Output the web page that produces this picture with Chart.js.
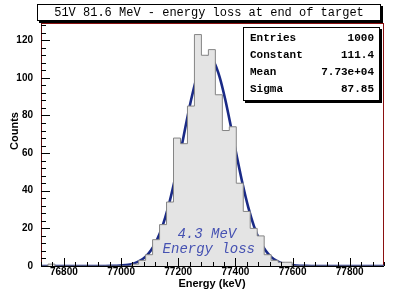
<!DOCTYPE html>
<html>
<head>
<meta charset="utf-8">
<script src="https://cdn.jsdelivr.net/npm/chart.js@4.4.0/dist/chart.umd.min.js"></script>
<style>
  html, body { margin: 0; padding: 0; background: #fff; }
</style>
</head>
<body>
<canvas id="histo" width="394" height="297"></canvas>
<script>
// 50 bins of 24.4 keV starting at 76720 keV
var binStart = 76720;
var binWidth = 24.4;
var counts = [0, 1, 0, 0, 0, 0, 0, 0, 0, 0,
              0, 0, 0, 1, 3, 6, 14, 22, 34, 68,
              65, 85, 123, 112, 115, 91, 72, 74, 44, 29,
              20, 16, 6, 3, 2, 2, 0, 0, 0, 0,
              0, 0, 0, 0, 0, 0, 0, 0, 0, 0];

// gaussian fit line
var fitEnergy = [76720, 76945, 76965, 76985, 77005, 77025, 77045, 77065, 77085, 77105,
                 77125, 77145, 77165, 77185, 77205, 77225, 77245, 77265, 77285, 77305,
                 77325, 77345, 77365, 77385, 77405, 77425, 77445, 77465, 77485, 77505,
                 77525, 77545, 77565, 77585, 77605, 77625, 77645, 77665, 77920];
var fitCounts = [0, 0.03, 0.06, 0.15, 0.33, 0.69, 1.40, 2.67, 4.84, 8.34,
                 13.65, 21.21, 31.29, 43.82, 58.28, 73.59, 88.22, 100.43, 108.55, 111.4,
                 108.55, 100.43, 88.22, 73.59, 58.28, 43.82, 31.29, 21.21, 13.65, 8.34,
                 4.84, 2.67, 1.40, 0.69, 0.33, 0.15, 0.06, 0.03, 0];

var xMin = 76720, xMax = 77920;
var xLabels = [76800, 77000, 77200, 77400, 77600, 77800];
var yLabels = [0, 20, 40, 60, 80, 100, 120];
var yTop = 129.15;

var title = '51V 81.6 MeV - energy loss at end of target';
var statNames = ['Entries', 'Constant', 'Mean', 'Sigma'];
var statValues = ['1000', '111.4', '7.73e+04', '87.85'];
var note = ['4.3 MeV', 'Energy loss'];

var histPoints = [{x: binStart, y: 0}];
counts.forEach(function (c, i) {
    histPoints.push({x: binStart + i * binWidth, y: c});
});
histPoints.push({x: binStart + counts.length * binWidth, y: 0});

var fitPoints = fitEnergy.map(function (e, i) { return {x: e, y: fitCounts[i]}; });

var sans = "'Liberation Sans', Arial, sans-serif";
var mono = "'Liberation Mono', 'DejaVu Sans Mono', monospace";

// ROOT style frame, inward ticks, title box, stats box and text
var rootLook = {
    id: 'rootLook',
    beforeDatasetsDraw: function (chart) {
        var a = chart.chartArea, ctx = chart.ctx;
        ctx.save();
        ctx.strokeStyle = '#8b1010';
        ctx.lineWidth = 1;
        ctx.strokeRect(a.left + 0.5, a.top + 0.5, a.right - a.left - 1, a.bottom - a.top);
        ctx.restore();
    },
    afterDatasetsDraw: function (chart) {
        var a = chart.chartArea, ctx = chart.ctx;
        var sx = chart.scales.x, sy = chart.scales.y;
        ctx.save();
        ctx.lineWidth = 1;
        // axis lines
        ctx.strokeStyle = '#000';
        ctx.beginPath();
        ctx.moveTo(a.left, a.bottom + 0.5);
        ctx.lineTo(a.right, a.bottom + 0.5);
        ctx.stroke();
        ctx.strokeStyle = '#5a0a0a';
        ctx.beginPath();
        ctx.moveTo(a.left + 0.5, a.top);
        ctx.lineTo(a.left + 0.5, a.bottom);
        ctx.stroke();
        // ticks
        ctx.strokeStyle = '#000';
        ctx.beginPath();
        sx.ticks.forEach(function (t) {
            var px = Math.round(sx.getPixelForValue(t.value)) + 0.5;
            var len = xLabels.indexOf(t.value) >= 0 ? 8 : 4;
            ctx.moveTo(px, a.bottom);
            ctx.lineTo(px, a.bottom - len);
        });
        sy.ticks.forEach(function (t) {
            var py = Math.round(sy.getPixelForValue(t.value)) + 0.5;
            var len = yLabels.indexOf(t.value) >= 0 ? 9 : 5;
            ctx.moveTo(a.left, py);
            ctx.lineTo(a.left + len, py);
        });
        ctx.stroke();

        // annotation
        ctx.fillStyle = '#4652b2';
        ctx.font = 'italic 14px ' + mono;
        ctx.textAlign = 'center';
        ctx.textBaseline = 'middle';
        var cx = sx.getPixelForValue(77300);
        ctx.fillText(note[0], cx, 234);
        ctx.fillText(note[1], cx + 2, 249);
        ctx.restore();
    },
    afterDraw: function (chart) {
        var ctx = chart.ctx;
        ctx.save();
        // title box
        ctx.fillStyle = '#000';
        ctx.fillRect(39, 6, 344, 17);
        ctx.fillStyle = '#fff';
        ctx.fillRect(37, 4, 344, 17);
        ctx.strokeStyle = '#000';
        ctx.lineWidth = 1;
        ctx.strokeRect(37.5, 4.5, 343, 16);
        ctx.fillStyle = '#000';
        ctx.font = '12px ' + mono;
        ctx.textAlign = 'center';
        ctx.textBaseline = 'middle';
        ctx.fillText(title, 209, 13);

        // stats box
        ctx.fillStyle = '#000';
        ctx.fillRect(245, 29, 137, 74);
        ctx.fillStyle = '#fff';
        ctx.fillRect(243, 27, 137, 74);
        ctx.strokeRect(243.5, 27.5, 136, 73);
        ctx.fillStyle = '#000';
        ctx.font = 'bold 11px ' + mono;
        statNames.forEach(function (n, i) {
            var y = 38.5 + i * 17;
            ctx.textAlign = 'left';
            ctx.fillText(n, 250, y);
            ctx.textAlign = 'right';
            ctx.fillText(statValues[i], 374, y);
        });

        // axis titles
        ctx.font = 'bold 11px ' + sans;
        ctx.textAlign = 'center';
        ctx.fillText('Energy (keV)', 212, 284);
        ctx.translate(15, 131);
        ctx.rotate(-Math.PI / 2);
        ctx.fillText('Counts', 0, 0);
        ctx.restore();
    }
};

var ctx = document.getElementById('histo').getContext('2d');
var myChart = new Chart(ctx, {
    type: 'line',
    data: {
        datasets: [{
            label: 'histogram',
            data: histPoints,
            stepped: 'before',
            fill: 'origin',
            backgroundColor: '#e4e4e4',
            borderColor: '#858585',
            borderWidth: 1,
            pointRadius: 0
        }, {
            label: 'gaus fit',
            data: fitPoints,
            cubicInterpolationMode: 'monotone',
            fill: false,
            borderColor: '#1a2a86',
            borderWidth: 2.6,
            pointRadius: 0
        }]
    },
    options: {
        responsive: false,
        animation: false,
        devicePixelRatio: 1,
        layout: { padding: { top: 23, right: 10, left: 0, bottom: 0 } },
        plugins: {
            legend: { display: false },
            tooltip: { enabled: false }
        },
        scales: {
            x: {
                type: 'linear',
                min: xMin,
                max: xMax,
                afterFit: function (s) { s.height = 31; },
                grid: { display: false, drawTicks: false },
                border: { display: false },
                ticks: {
                    stepSize: 40,
                    maxTicksLimit: 40,
                    autoSkip: false,
                    includeBounds: false,
                    maxRotation: 0,
                    padding: 0,
                    color: '#000',
                    font: { family: sans, size: 10, weight: 'bold' },
                    callback: function (v) { return xLabels.indexOf(v) >= 0 ? String(v) : ''; }
                }
            },
            y: {
                min: 0,
                max: yTop,
                afterFit: function (s) { s.width = 41; },
                grid: { display: false, drawTicks: false },
                border: { display: false },
                ticks: {
                    stepSize: 4,
                    maxTicksLimit: 40,
                    autoSkip: false,
                    includeBounds: false,
                    padding: 8,
                    color: '#000',
                    font: { family: sans, size: 10, weight: 'bold' },
                    callback: function (v) { return yLabels.indexOf(v) >= 0 ? String(v) : ''; }
                }
            }
        }
    },
    plugins: [rootLook]
});
</script>
</body>
</html>
